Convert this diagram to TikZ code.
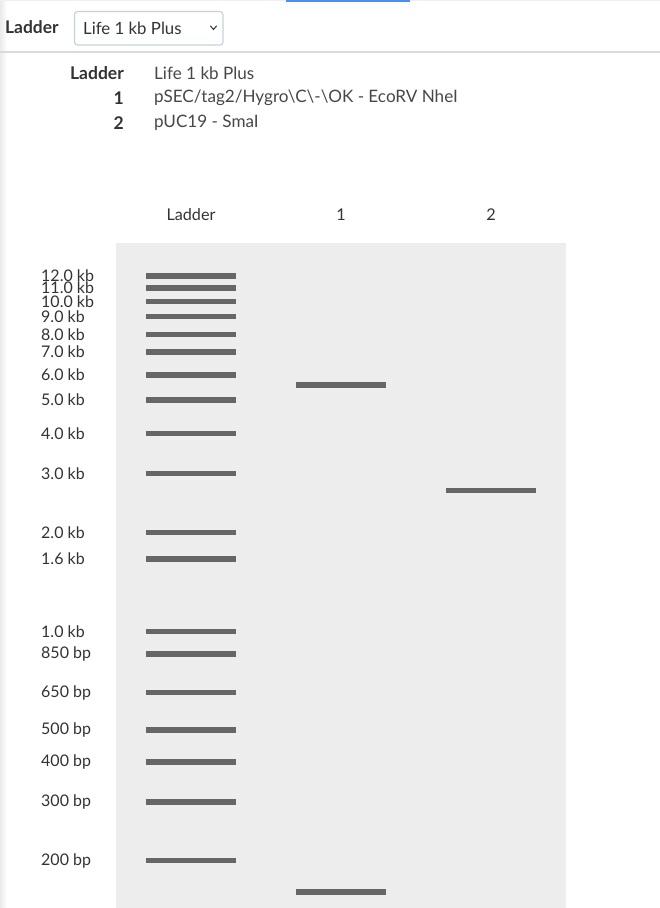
\documentclass[tikz,border=0pt]{standalone}
\usepackage{fontspec}
\setmainfont{Lato}
\definecolor{gelbg}{HTML}{EDEDED}
\definecolor{bandc}{HTML}{666666}
\definecolor{txt}{HTML}{333333}
\definecolor{rulec}{HTML}{D6DADD}
\definecolor{boxc}{HTML}{C5D3D9}
\definecolor{bluec}{HTML}{4A90F2}
\tikzset{
  lbl/.style={anchor=west, inner sep=0pt, text=txt, font=\fontsize{16}{16}\selectfont},
  lanehead/.style={anchor=center, inner sep=0pt, text=txt, font=\fontsize{16.2}{16.2}\selectfont},
  legkey/.style={anchor=east, inner sep=0pt, text=txt, font=\bfseries\fontsize{17.5}{17.5}\selectfont},
  legval/.style={anchor=west, inner sep=0pt, text=txt!90, font=\fontsize{17.1}{17.1}\selectfont},
}
\begin{document}
\begin{tikzpicture}[x=1pt,y=-1pt]
\useasboundingbox (0,0) rectangle (660,908);
\fill[white] (0,0) rectangle (660,908);
% left faint shade
\shade[left color=black!8, right color=white] (0,0) rectangle (7,908);
% top lines
\fill[black!6] (0,0) rectangle (660,1);
\fill[bluec] (286,0) rectangle (410,1.5);
% header
\node[anchor=west, inner sep=0pt, text=txt, font=\bfseries\fontsize{17.4}{17.4}\selectfont] (hdr) at (5,27) {Ladder};
\draw[boxc, line width=1.2pt, rounded corners=3pt] (74.5,11.5) rectangle (223,45);
\node[anchor=west, inner sep=0pt, text=txt, font=\fontsize{16.8}{16.8}\selectfont] (sel) at (83,28.5) {Life 1 kb Plus};
\draw[txt, line width=1pt, line cap=round, line join=round] (210.5,26) -- (213.5,29.5) -- (216.5,26);
\fill[rulec] (0,51) rectangle (660,53);
% legend
\node[legkey] (k0) at (124,73) {Ladder};
\node[legkey] (k1) at (124,98) {1};
\node[legkey] (k2) at (124,123) {2};
\node[legval] (v0) at (154,73) {Life 1 kb Plus};
\node[legval] (v1) at (154,98) {pSEC/tag2/Hygro\textbackslash C\textbackslash -\textbackslash OK - EcoRV NheI};
\node[legval] (v2) at (154,123) {pUC19 - SmaI};
% lane headers
\node[lanehead] (hL) at (191,215) {Ladder};
\node[lanehead] (h1) at (341,215) {1};
\node[lanehead] (h2) at (491,215) {2};
% gel
\fill[gelbg] (116,243) rectangle (566,908);
% ladder bands and labels
\foreach \y/\t in {276/12.0 kb, 288/11.0 kb, 301.5/10.0 kb, 316.5/9.0 kb, 334.5/8.0 kb, 352/7.0 kb, 375/6.0 kb, 400/5.0 kb, 433.5/4.0 kb, 473.5/3.0 kb, 532.5/2.0 kb, 559/1.6 kb, 631.5/1.0 kb, 654/850 bp, 692.5/650 bp, 730/500 bp, 762/400 bp, 802/300 bp, 860.5/200 bp}{
  \fill[bandc] (146,\y-2.8) rectangle (236,\y+2.8);
  \node[lbl] at (41,\y) {\t};
}
% lane 1
\fill[bandc] (296,385-2.8) rectangle (386,385+2.8);
\fill[bandc] (296,892-2.8) rectangle (386,892+2.8);
% lane 2
\fill[bandc] (446,490.5-2.8) rectangle (536,490.5+2.8);
\end{tikzpicture}
\end{document}
